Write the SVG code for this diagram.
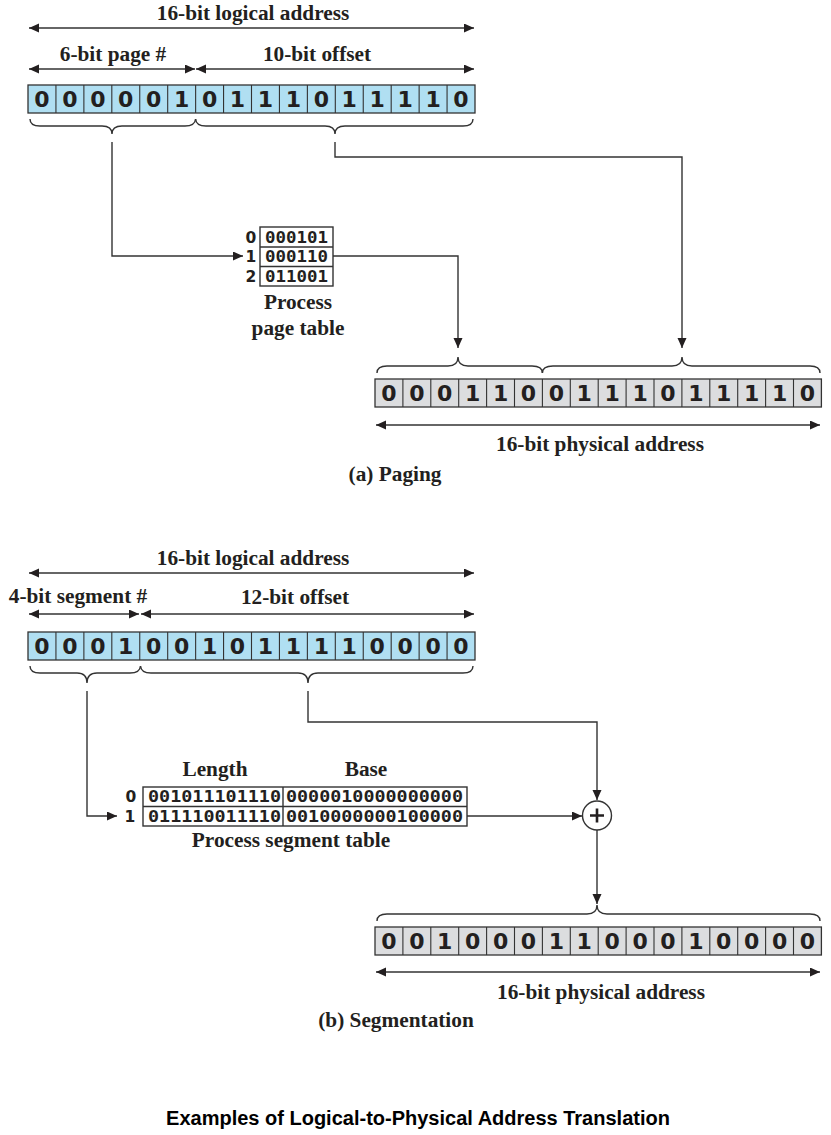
<svg xmlns="http://www.w3.org/2000/svg" width="831" height="1135" viewBox="0 0 831 1135">
<style>
.lbl{font-family:"Liberation Serif","Times New Roman",serif;font-weight:bold;font-size:21.3px;fill:#231f20;text-anchor:middle}
.bits{font-family:"DejaVu Sans",Verdana,sans-serif;font-weight:bold;font-size:22px;fill:#231f20;text-anchor:middle}
.tbl{font-family:"DejaVu Sans Mono","Liberation Mono",monospace;font-weight:bold;font-size:15px;fill:#231f20}
.idx{font-family:"DejaVu Sans",sans-serif;font-weight:bold;font-size:15.5px;fill:#231f20;text-anchor:middle}
.title{font-family:"Liberation Sans",Arial,sans-serif;font-weight:bold;font-size:20px;fill:#000;text-anchor:middle}
.reg{stroke:#333;stroke-width:1.3}
.blue{fill:#b0dff2}
.gray{fill:#dcdddf}
.div{stroke:#333;stroke-width:1.1;fill:none}
.ln{stroke:#333;stroke-width:1.4;fill:none}
.brace{stroke:#333;stroke-width:1.4;fill:none}
.box{fill:#fff;stroke:#333;stroke-width:1.4}
</style>
<defs>
<marker id="ah" markerUnits="userSpaceOnUse" markerWidth="11" markerHeight="10" refX="10" refY="4.5" orient="auto-start-reverse">
<path d="M0,0 L10,4.5 L0,9 z" fill="#231f20"/>
</marker>
</defs>

<g id="paging">
<g id="paging-logical-labels">
<line class="ln" x1="29" y1="28" x2="474" y2="28" marker-start="url(#ah)" marker-end="url(#ah)"/>
<text class="lbl" x="253" y="20">16-bit logical address</text>
<line class="ln" x1="29" y1="69" x2="195" y2="69" marker-start="url(#ah)" marker-end="url(#ah)"/>
<line class="ln" x1="196" y1="69" x2="474" y2="69" marker-start="url(#ah)" marker-end="url(#ah)"/>
<text class="lbl" x="113" y="61">6-bit page #</text>
<text class="lbl" x="317" y="61">10-bit offset</text>
</g>
<g id="paging-logical-register">
<rect class="reg blue" x="28" y="85" width="447" height="28"/>
<path class="div" d="M55.94,85v28M83.88,85v28M111.81,85v28M139.75,85v28M167.69,85v28M195.63,85v28M223.56,85v28M251.5,85v28M279.44,85v28M307.38,85v28M335.31,85v28M363.25,85v28M391.19,85v28M419.13,85v28M447.06,85v28"/>
<text class="bits" x="41.97 69.91 97.84 125.78 153.72 181.66 209.59 237.53 265.47 293.41 321.34 349.28 377.22 405.16 433.09 461.03" y="107">0000010111011110</text>
</g>
<g id="paging-logical-braces">
<path class="brace" d="M30,119 Q30,126 40,126 L102,126 Q112,126 112,134 Q112,126 122,126 L185,126 Q195,126 195.6,119"/>
<path class="brace" d="M195.6,119 Q196,126 206,126 L325,126 Q335,126 335,134 Q335,126 345,126 L463,126 Q473,126 473,119"/>
</g>
<g id="page-table">
<rect class="box" x="260" y="227" width="73" height="59"/>
<line class="ln" x1="260" y1="247" x2="333" y2="247"/>
<line class="ln" x1="260" y1="266.5" x2="333" y2="266.5"/>
<text class="tbl" x="265" y="243" textLength="63" lengthAdjust="spacingAndGlyphs">000101</text>
<text class="tbl" x="265" y="262" textLength="63" lengthAdjust="spacingAndGlyphs">000110</text>
<text class="tbl" x="265" y="281.5" textLength="63" lengthAdjust="spacingAndGlyphs">011001</text>
<text class="idx" x="251" y="243">0</text>
<text class="idx" x="251" y="262">1</text>
<text class="idx" x="251" y="281.5">2</text>
<text class="lbl" x="298" y="309">Process</text>
<text class="lbl" x="298" y="335">page table</text>
</g>
<g id="paging-physical-braces">
<path class="brace" d="M377,373 Q377,366 387,366 L448,366 Q458,366 458,357 Q458,366 468,366 L532,366 Q542.4,366 542.4,373"/>
<path class="brace" d="M542.4,373 Q542.4,366 553,366 L672,366 Q682,366 682,357 Q682,366 692,366 L810,366 Q820,366 820,373"/>
</g>
<g id="paging-physical-register">
<rect class="reg gray" x="375" y="379" width="446.4" height="28"/>
<path class="div" d="M402.9,379v28M430.8,379v28M458.7,379v28M486.6,379v28M514.5,379v28M542.4,379v28M570.3,379v28M598.2,379v28M626.1,379v28M654,379v28M681.9,379v28M709.8,379v28M737.7,379v28M765.6,379v28M793.5,379v28"/>
<text class="bits" x="388.95 416.85 444.75 472.65 500.55 528.45 556.35 584.25 612.15 640.05 667.95 695.85 723.75 751.65 779.55 807.45" y="401">0001100111011110</text>
<line class="ln" x1="376" y1="425" x2="820" y2="425" marker-start="url(#ah)" marker-end="url(#ah)"/>
<text class="lbl" x="600" y="451">16-bit physical address</text>
</g>
<text id="caption-a" class="lbl" x="395" y="481">(a) Paging</text>
<g id="paging-connectors">
<path class="ln" d="M112,142 V256 H243" marker-end="url(#ah)"/>
<path class="ln" d="M335,142 V157 H682 V348" marker-end="url(#ah)"/>
<path class="ln" d="M333,256 H458 V348" marker-end="url(#ah)"/>
</g>
</g>

<g id="segmentation">
<g id="seg-logical-labels">
<line class="ln" x1="29" y1="573" x2="474" y2="573" marker-start="url(#ah)" marker-end="url(#ah)"/>
<text class="lbl" x="253" y="565">16-bit logical address</text>
<line class="ln" x1="29" y1="614" x2="139" y2="614" marker-start="url(#ah)" marker-end="url(#ah)"/>
<line class="ln" x1="141" y1="614" x2="474" y2="614" marker-start="url(#ah)" marker-end="url(#ah)"/>
<text class="lbl" x="78" y="603">4-bit segment #</text>
<text class="lbl" x="295" y="604">12-bit offset</text>
</g>
<g id="seg-logical-register">
<rect class="reg blue" x="28" y="632" width="447" height="28"/>
<path class="div" d="M55.94,632v28M83.88,632v28M111.81,632v28M139.75,632v28M167.69,632v28M195.63,632v28M223.56,632v28M251.5,632v28M279.44,632v28M307.38,632v28M335.31,632v28M363.25,632v28M391.19,632v28M419.13,632v28M447.06,632v28"/>
<text class="bits" x="41.97 69.91 97.84 125.78 153.72 181.66 209.59 237.53 265.47 293.41 321.34 349.28 377.22 405.16 433.09 461.03" y="654">0001001011110000</text>
</g>
<g id="seg-logical-braces">
<path class="brace" d="M30,666 Q30,673 40,673 L77,673 Q87,673 87,683 Q87,673 97,673 L130,673 Q140,673 140.5,666"/>
<path class="brace" d="M140.5,666 Q141,673 151,673 L298,673 Q308,673 308,683 Q308,673 318,673 L463,673 Q473,673 473,666"/>
</g>
<g id="segment-table">
<text class="lbl" x="215" y="776">Length</text>
<text class="lbl" x="366" y="776">Base</text>
<rect class="box" x="143" y="787" width="324" height="39"/>
<line class="ln" x1="143" y1="806.5" x2="467" y2="806.5"/>
<line class="ln" x1="283" y1="787" x2="283" y2="826"/>
<text class="tbl" x="148" y="802" textLength="133" lengthAdjust="spacingAndGlyphs">001011101110</text>
<text class="tbl" x="148" y="821.5" textLength="133" lengthAdjust="spacingAndGlyphs">011110011110</text>
<text class="tbl" x="286" y="802" textLength="177" lengthAdjust="spacingAndGlyphs">0000010000000000</text>
<text class="tbl" x="286" y="821.5" textLength="177" lengthAdjust="spacingAndGlyphs">0010000000100000</text>
<text class="idx" x="131" y="802">0</text>
<text class="idx" x="130" y="822">1</text>
<text class="lbl" x="291" y="847">Process segment table</text>
</g>
<g id="adder">
<circle cx="597" cy="815.5" r="14.5" fill="#fff" stroke="#333" stroke-width="1.4"/>
<path d="M590,815.5 H604 M597,808.5 V822.5" stroke="#231f20" stroke-width="2.6" fill="none"/>
</g>
<g id="seg-physical-brace">
<path class="brace" d="M377,921 Q377,914 387,914 L587,914 Q597,914 597,905 Q597,914 607,914 L810,914 Q820,914 820,921"/>
</g>
<g id="seg-physical-register">
<rect class="reg gray" x="375" y="927" width="446.4" height="28"/>
<path class="div" d="M402.9,927v28M430.8,927v28M458.7,927v28M486.6,927v28M514.5,927v28M542.4,927v28M570.3,927v28M598.2,927v28M626.1,927v28M654,927v28M681.9,927v28M709.8,927v28M737.7,927v28M765.6,927v28M793.5,927v28"/>
<text class="bits" x="388.95 416.85 444.75 472.65 500.55 528.45 556.35 584.25 612.15 640.05 667.95 695.85 723.75 751.65 779.55 807.45" y="949">0010001100010000</text>
<line class="ln" x1="376" y1="972" x2="820" y2="972" marker-start="url(#ah)" marker-end="url(#ah)"/>
<text class="lbl" x="601" y="999">16-bit physical address</text>
</g>
<text id="caption-b" class="lbl" x="396" y="1027">(b) Segmentation</text>
<g id="seg-connectors">
<path class="ln" d="M87,691 V816 H117" marker-end="url(#ah)"/>
<path class="ln" d="M308,691 V722 H597 V800" marker-end="url(#ah)"/>
<path class="ln" d="M467,816 H582" marker-end="url(#ah)"/>
<path class="ln" d="M597,830 V904" marker-end="url(#ah)"/>
</g>
</g>

<text id="title" class="title" x="418" y="1125">Examples of Logical-to-Physical Address Translation</text>
</svg>
